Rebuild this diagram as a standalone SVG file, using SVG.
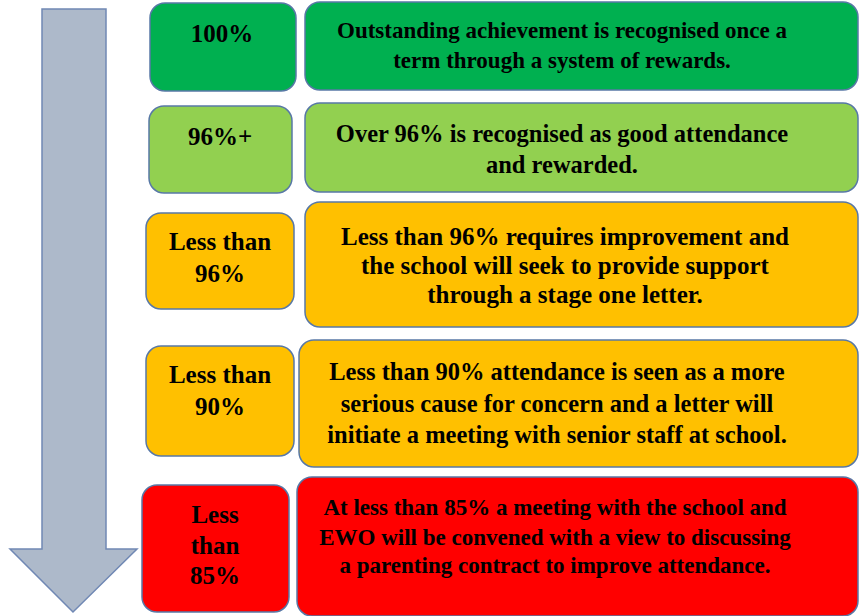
<svg xmlns="http://www.w3.org/2000/svg" width="860" height="616" viewBox="0 0 860 616">
<style>
.box{stroke:#5878a6;stroke-width:1.5}
.g1{fill:#00b050}
.g2{fill:#92d050}
.am{fill:#ffc000}
.rd{fill:#ff0000}
</style>
<rect width="860" height="616" fill="#ffffff"/>
<g id="arrow">
<path d="M42,9 L106,9 L106,549 L137,549 L73,612 L10,549 L42,549 Z" fill="#adb9ca" stroke="#7088b4" stroke-width="1.5"/>
</g>
<g font-family="Liberation Serif, Times New Roman, serif" font-weight="bold" fill="#000" text-anchor="middle">
<g id="label-100">
<rect class="box g1" x="150" y="3" width="146" height="88" rx="15"/>
<text font-size="25" x="222" y="42">100%</text>
</g>
<g id="desc-100">
<rect class="box g1" x="305" y="2" width="553" height="88" rx="15"/>
<text font-size="23" x="562" y="38">Outstanding achievement is recognised once a</text>
<text font-size="23" x="562" y="68">term through a system of rewards.</text>
</g>
<g id="label-96plus">
<rect class="box g2" x="149" y="106" width="143" height="87" rx="15"/>
<text font-size="25" x="220" y="145">96%+</text>
</g>
<g id="desc-96plus">
<rect class="box g2" x="305" y="103" width="553" height="89" rx="15"/>
<text font-size="24.5" x="562" y="142">Over 96% is recognised as good attendance</text>
<text font-size="24.5" x="562" y="173">and rewarded.</text>
</g>
<g id="label-lt96">
<rect class="box am" x="146" y="213" width="148" height="96" rx="15"/>
<text font-size="25" x="220" y="250">Less than</text>
<text font-size="25" x="220" y="282">96%</text>
</g>
<g id="desc-lt96">
<rect class="box am" x="305" y="202" width="553" height="125" rx="15"/>
<text font-size="25" x="565" y="245">Less than 96% requires improvement and</text>
<text font-size="25" x="565" y="274">the school will seek to provide support</text>
<text font-size="25" x="565" y="303">through a stage one letter.</text>
</g>
<g id="label-lt90">
<rect class="box am" x="146" y="346" width="148" height="110" rx="15"/>
<text font-size="25" x="220" y="383">Less than</text>
<text font-size="25" x="220" y="415">90%</text>
</g>
<g id="desc-lt90">
<rect class="box am" x="299" y="340" width="559" height="127" rx="15"/>
<text font-size="24.5" x="557" y="380">Less than 90% attendance is seen as a more</text>
<text font-size="24.5" x="557" y="412">serious cause for concern and a letter will</text>
<text font-size="24.5" x="557" y="443">initiate a meeting with senior staff at school.</text>
</g>
<g id="label-lt85">
<rect class="box rd" x="142" y="485" width="147" height="127" rx="15"/>
<text font-size="25" x="215" y="523">Less</text>
<text font-size="25" x="215" y="554">than</text>
<text font-size="25" x="215" y="584">85%</text>
</g>
<g id="desc-lt85">
<rect class="box rd" x="297" y="477" width="561" height="139" rx="15"/>
<text font-size="23" x="555" y="515">At less than 85% a meeting with the school and</text>
<text font-size="23" x="555" y="545">EWO will be convened with a view to discussing</text>
<text font-size="23" x="555" y="573">a parenting contract to improve attendance.</text>
</g>
</g>
<g id="connectors"/>
</svg>
